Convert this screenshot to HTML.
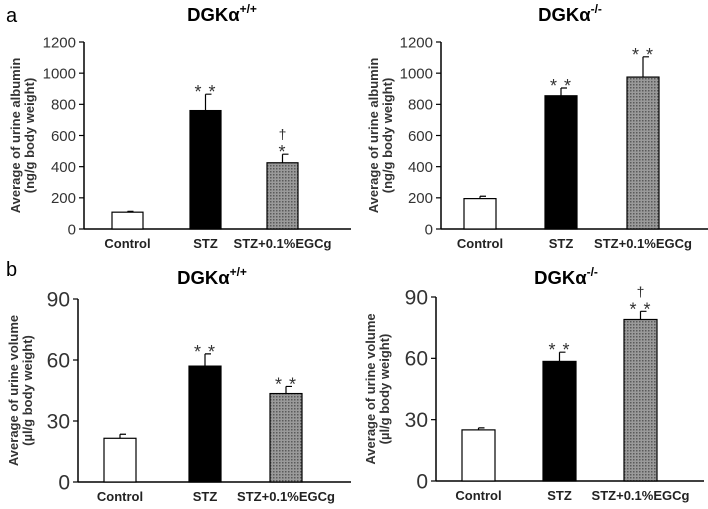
<!DOCTYPE html>
<html><head><meta charset="utf-8"><style>
body{margin:0;background:#fff;width:708px;height:504px;overflow:hidden}
svg{font-family:"Liberation Sans",sans-serif}
</style></head><body>
<svg id="fig" width="708" height="504" viewBox="0 0 708 504">
<defs>
<pattern id="dots" width="3" height="3" patternUnits="userSpaceOnUse">
<rect width="3" height="3" fill="#9a9a9a"/><rect width="1.5" height="1.5" fill="#5a5a5a"/>
</pattern>
</defs>
<text x="6" y="22" font-size="20">a</text>
<text x="6" y="276" font-size="20">b</text>
</svg>
<script>
const categories = ["Control", "STZ", "STZ+0.1%EGCg"];
const albuminWT = [108, 760, 425];
const albuminWTErr = [5, 105, 55];
const albuminKO = [195, 855, 975];
const albuminKOErr = [15, 50, 130];
const volumeWT = [21.5, 57, 43.5];
const volumeWTErr = [2, 6, 3.5];
const volumeKO = [25, 58.5, 79];
const volumeKOErr = [1, 4.5, 4];
const albuminTicks = [0, 200, 400, 600, 800, 1000, 1200];
const volumeTicks = [0, 30, 60, 90];
const sigAlbWT = ["", "**", "*"], sigAlbWTd = ["", "", "†"];
const sigAlbKO = ["", "**", "**"], sigAlbKOd = ["", "", ""];
const sigVolWT = ["", "**", "**"], sigVolWTd = ["", "", ""];
const sigVolKO = ["", "**", "**"], sigVolKOd = ["", "", "†"];

const NS = "http://www.w3.org/2000/svg";
const svg = document.getElementById("fig");
function mk(tag, attrs, parent) {
  const e = document.createElementNS(NS, tag);
  for (const k in attrs) e.setAttribute(k, attrs[k]);
  (parent || svg).appendChild(e);
  return e;
}
const fills = ["#fff", "#000", "url(#dots)"];

function panel(p) {
  const g = mk("g", {});
  
  
  const maxV = p.ticks[p.ticks.length - 1];
  const y = v => p.y0 - (v / maxV) * (p.y0 - p.yTop);
  const t = mk("text", {x: p.titleX, y: p.titleY, "font-size": 18.5, "font-weight": "bold", "text-anchor": "middle"}, g);
  
  
  t.textContent = "DGKα";
  const sup = mk("tspan", {"font-size": 12, dy: -8}, t);
  sup.textContent = p.sup;
  const ya = mk("line", {x1: p.ax, y1: p.yTop, x2: p.ax, y2: p.y0, stroke: "#000", "stroke-width": 1.5}, g);
  
  
  const xa = mk("line", {x1: p.ax, y1: p.y0, x2: p.xEnd, y2: p.y0, stroke: "#000", "stroke-width": 1.5}, g);
  
  
  p.ticks.forEach(tv => {
    const tk = mk("line", {x1: p.ax - 5, y1: y(tv), x2: p.ax, y2: y(tv), stroke: "#000", "stroke-width": 1.2}, g);
    
    
    const tl = mk("text", {x: p.ax - 8, y: y(tv) + p.tickFont * 0.35, "font-size": p.tickFont, "text-anchor": "end", fill: "#333"}, g);
    
    
    tl.textContent = tv;
  });
  const yt = mk("text", {transform: `translate(${p.ytX},${(p.yTop + p.y0) / 2}) rotate(-90)`, "font-size": 13, "font-weight": "bold", "text-anchor": "middle", fill: "#333"}, g);
  
  
  const l1 = mk("tspan", {x: 0, dy: 0}, yt); l1.textContent = p.yt1;
  const l2 = mk("tspan", {x: 0, dy: 14}, yt); l2.textContent = p.yt2;
  categories.forEach((c, i) => {
    const bx = p.barX[i], w = p.bw, v = p.vals[i], e = p.errs[i];
    const r = mk("rect", {x: bx, y: y(v), width: w, height: p.y0 - y(v), fill: fills[i], stroke: "#000", "stroke-width": 1.2}, g);
    
    
    const cx = bx + w / 2;
    const el = mk("path", {d: `M${cx},${y(v)}V${y(v + e)}M${cx},${y(v + e)}H${cx + 6}`, stroke: "#000", "stroke-width": 1.2, fill: "none"}, g);
    
    
    if (p.sig[i]) {
      const s = mk("text", {x: cx, y: y(v + e) + 4, "font-size": 18, "text-anchor": "middle", "letter-spacing": 1, fill: "#333"}, g);
      
      
      s.textContent = p.sig[i].split("").join(" ");
    }
    if (p.sigd[i]) {
      const s2 = mk("text", {x: cx, y: y(v + e) - 15, "font-size": 14, "text-anchor": "middle", fill: "#333"}, g);
      
      
      s2.textContent = p.sigd[i];
    }
    const xl = mk("text", {x: cx, y: p.y0 + 19, "font-size": 13, "font-weight": "bold", "text-anchor": "middle", fill: "#222"}, g);
    
    
    xl.textContent = c;
  });
}

panel({name: "albumin-wt-chart", sup: "+/+", titleX: 222, titleY: 21, ax: 84, xEnd: 351, y0: 229, yTop: 42, ticks: albuminTicks, tickFont: 15, ytX: 20, yt1: "Average of urine albumin", yt2: "(ng/g body weight)", barX: [112, 190, 267], bw: 31, vals: albuminWT, errs: albuminWTErr, sig: sigAlbWT, sigd: sigAlbWTd});
panel({name: "albumin-ko-chart", sup: "-/-", titleX: 570, titleY: 21, ax: 441, xEnd: 708, y0: 229, yTop: 42, ticks: albuminTicks, tickFont: 15, ytX: 378, yt1: "Average of urine albumin", yt2: "(ng/g body weight)", barX: [464, 545, 627], bw: 32, vals: albuminKO, errs: albuminKOErr, sig: sigAlbKO, sigd: sigAlbKOd});
panel({name: "volume-wt-chart", sup: "+/+", titleX: 212, titleY: 284, ax: 78, xEnd: 351, y0: 482, yTop: 299, ticks: volumeTicks, tickFont: 21, ytX: 18, yt1: "Average of urine volume", yt2: "(µl/g body weight)", barX: [104, 189, 270], bw: 32, vals: volumeWT, errs: volumeWTErr, sig: sigVolWT, sigd: sigVolWTd});
panel({name: "volume-ko-chart", sup: "-/-", titleX: 566, titleY: 284, ax: 436, xEnd: 704, y0: 481, yTop: 297, ticks: volumeTicks, tickFont: 21, ytX: 375, yt1: "Average of urine volume", yt2: "(µl/g body weight)", barX: [462, 543, 624], bw: 33, vals: volumeKO, errs: volumeKOErr, sig: sigVolKO, sigd: sigVolKOd});
</script>
</body></html>
